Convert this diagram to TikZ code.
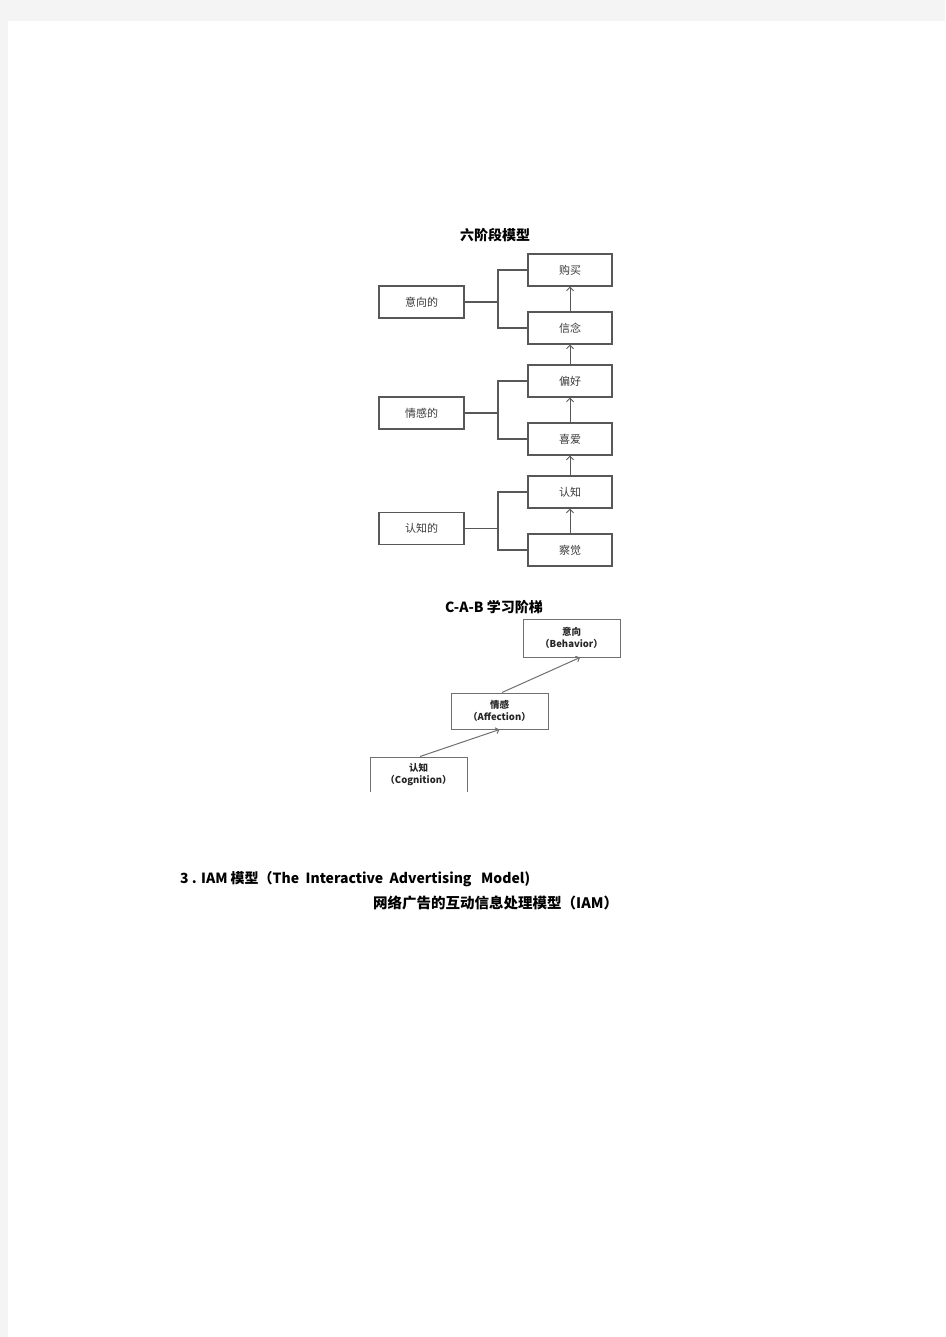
\documentclass[tikz,border=0pt]{standalone}
\usepackage{fontspec}
\setmainfont{Noto Sans CJK SC}
\usetikzlibrary{arrows.meta}
\definecolor{pagegray}{HTML}{F4F4F4}
\definecolor{boxline}{HTML}{585858}
\definecolor{boxtext}{HTML}{3A3A3A}
\definecolor{cabline}{HTML}{707070}
\tikzset{
  sbox/.style={draw=boxline, line width=1.1pt, inner sep=0pt, minimum height=32pt, text=boxtext, font=\fontsize{11}{13}\selectfont},
  rbox/.style={sbox, minimum width=84pt},
  lbox/.style={sbox, minimum width=85pt},
  link/.style={draw=boxline, line width=1.1pt},
  up/.style={draw=boxline, line width=1pt, -{Straight Barb[length=3.5pt,width=7pt]}},
  cbox/.style={draw=cabline, line width=1pt, inner sep=0pt, minimum width=97pt, align=center, font=\bfseries\fontsize{9.5}{12}\selectfont, text=black!85},
  cup/.style={draw=cabline, line width=1pt, -{Straight Barb[length=3pt,width=6pt]}},
  title/.style={font=\bfseries\fontsize{14}{16}\selectfont, inner sep=0pt},
}
\begin{document}
\begin{tikzpicture}[x=1pt, y=-1pt]
\useasboundingbox (0,0) rectangle (945,1337);
\fill[pagegray] (0,0) rectangle (945,1337);
\fill[white] (8,21) rectangle (945,1337);

% six-stage model
\node[title] (t1) at (495,235) {六阶段模型};
\node[rbox] (b1) at (570,270) {购买};
\node[rbox] (b2) at (570,328) {信念};
\node[rbox] (b3) at (570,381) {偏好};
\node[rbox] (b4) at (570,439) {喜爱};
\node[rbox] (b5) at (570,492) {认知};
\node[rbox] (b6) at (570,550) {察觉};
\node[lbox] (l1) at (421.5,302) {意向的};
\node[lbox] (l2) at (421.5,413) {情感的};
\node[lbox] (l3) at (421.5,528.5) {认知的};
\coordinate (j1) at (498,302);
\coordinate (j2) at (498,413);
\coordinate (j3) at (498,528.5);
\draw[link] (b1.west) -| (j1) |- (b2.west);
\draw[link] (l1.east) -- (j1);
\draw[link] (b3.west) -| (j2) |- (b4.west);
\draw[link] (l2.east) -- (j2);
\draw[link] (b5.west) -| (j3) |- (b6.west);
\draw[link] (l3.east) -- (j3);
\draw[up] (b2.north) -- (b1.south);
\draw[up] (b3.north) -- (b2.south);
\draw[up] (b4.north) -- (b3.south);
\draw[up] (b5.north) -- (b4.south);
\draw[up] (b6.north) -- (b5.south);

% C-A-B ladder
\node[title] (t2) at (494,607) {C-A-B 学习阶梯};
\node[cbox, minimum height=38pt] (beh) at (571.5,638) {意向\\（Behavior）};
\node[cbox, minimum height=36pt] (aff) at (499.5,711) {情感\\（Affection）};
\begin{scope}
\clip (0,0) rectangle (945,791);
\node[cbox, minimum height=36pt] (cog) at (418.5,775) {认知\\（Cognition）};
\end{scope}
\draw[cup] ([xshift=1.5pt]cog.north) -- (aff.south);
\draw[cup] ([xshift=2.5pt]aff.north) -- ([xshift=8.5pt]beh.south);

% IAM heading
\node[anchor=west, inner sep=0pt, font=\bfseries\fontsize{14}{16}\selectfont] (h3) at (180,879) {3 . IAM 模型（The\ \ Interactive\ \ Advertising\ \ \ Model)};
\node[anchor=west, inner sep=0pt, font=\bfseries\fontsize{14.5}{16}\selectfont] (h4) at (373,903) {网络广告的互动信息处理模型（IAM）};
\end{tikzpicture}
\end{document}
